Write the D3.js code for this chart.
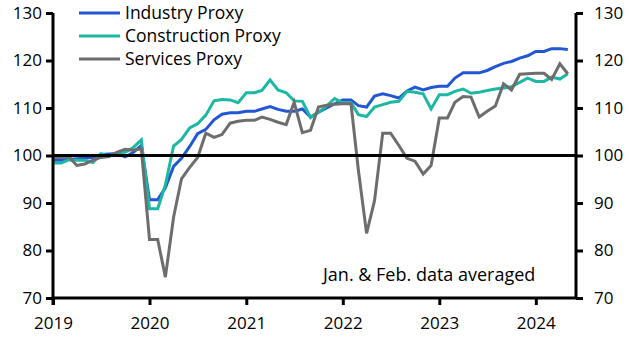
<!DOCTYPE html>
<meta charset="utf-8">
<script src="https://cdn.jsdelivr.net/npm/d3@7"></script>
<style>
	body{
		margin:0;
		font-family:"Open Sans",sans-serif;
		background:#fff;
	}
</style>
<div id="chart"></div>

<script>
// monthly proxies, Jan 2019 - May 2024 (Jan & Feb share one value)
var startYear = 2019
var industry = [99.0,99.0,99.2,99.3,99.4,99.6,100.2,100.3,100.4,99.7,100.7,102.1,
	90.7,90.7,93.2,97.7,99.4,101.9,104.6,105.5,107.5,108.7,109.0,109.0,
	109.3,109.3,109.8,110.3,109.7,109.3,109.3,109.8,108.1,109.1,110.0,110.9,
	111.7,111.7,110.5,110.2,112.5,113.0,112.6,112.1,113.6,114.4,113.8,114.3,
	114.6,114.6,116.3,117.4,117.4,117.4,117.9,118.7,119.4,119.8,120.5,121.0,
	121.9,121.9,122.5,122.5,122.3]
var construction = [98.4,98.4,99.1,99.0,99.0,98.5,100.4,99.9,100.6,100.7,101.7,103.3,
	88.8,88.8,93.8,102.0,103.4,105.8,106.7,108.5,111.5,111.8,111.7,111.1,
	113.2,113.2,113.7,115.9,113.8,113.2,111.5,111.4,108.0,109.1,110.4,112.0,
	111.1,111.1,108.6,108.2,110.2,110.7,111.2,111.4,113.5,113.3,113.0,109.8,
	112.8,112.8,113.5,114.0,113.1,113.3,113.7,114.0,114.2,114.5,115.4,116.3,
	115.6,115.6,116.5,116.1,117.2]
var services = [99.6,99.6,99.8,97.9,98.2,99.0,99.6,99.8,100.7,101.3,101.1,101.4,
	82.3,82.3,74.4,87.0,95.1,97.5,99.6,104.7,103.8,104.4,106.8,107.2,
	107.4,107.4,108.1,107.6,107.0,106.5,111.2,104.8,105.3,110.2,110.6,110.8,
	110.9,110.9,96.9,83.6,90.5,104.7,104.7,102.1,99.4,98.8,96.1,97.9,
	107.9,107.9,111.2,112.4,112.3,108.1,109.3,110.4,115.1,113.8,117.1,117.2,
	117.3,117.3,116.0,119.3,117.2]

var seriesNames = ["Industry Proxy","Construction Proxy","Services Proxy"]
var seriesColors = ["#2257d3","#1cb8a3","#6d6d6d"]
var yTicks = [70,80,90,100,110,120,130]
var yearTicks = [2019,2020,2021,2022,2023,2024]
var note = "Jan. & Feb. data averaged"

var width = 629
var height = 340
var plot = {x0:53, x1:576, y0:13, y1:298}

var months = d3.range(industry.length).map(function(i){ return new Date(startYear,i,1) })

var x = d3.scaleTime()
	.domain([new Date(startYear,0,1), new Date(2024,5,1)])
	.range([plot.x0,plot.x1])
var y = d3.scaleLinear().domain([70,130]).range([plot.y1,plot.y0])

var svg = d3.select("#chart").append("svg")
	.attr("width",width)
	.attr("height",height)

// series, services drawn last so it sits on top
var line = d3.line()
	.x(function(d,i){ return x(months[i]) })
	.y(function(d){ return y(d) })

var allSeries = [industry,construction,services]
svg.append("g")
	.selectAll("path")
	.data(allSeries)
	.enter()
	.append("path")
	.attr("d",line)
	.attr("fill","none")
	.attr("stroke",function(d,i){ return seriesColors[i] })
	.attr("stroke-width",3)

// 100 reference line
svg.append("line")
	.attr("x1",plot.x0).attr("x2",plot.x1)
	.attr("y1",y(100)).attr("y2",y(100))
	.attr("stroke","#000").attr("stroke-width",3)

// axes
var leftAxis = d3.axisLeft(y).tickValues(yTicks).tickSize(7).tickPadding(4)
var rightAxis = d3.axisRight(y).tickValues(yTicks).tickSize(7).tickPadding(11)
var bottomAxis = d3.axisBottom(x)
	.tickValues(yearTicks.map(function(yr){ return new Date(yr,0,1) }))
	.tickFormat(d3.timeFormat("%Y"))
	.tickSize(7).tickPadding(12)

var gl = svg.append("g").attr("transform","translate("+plot.x0+",0)").call(leftAxis)
var gr = svg.append("g").attr("transform","translate("+plot.x1+",0)").call(rightAxis)
var gb = svg.append("g").attr("transform","translate(0,"+plot.y1+")").call(bottomAxis)

;[gl,gr,gb].forEach(function(g){
	g.select(".domain").attr("stroke","#000").attr("stroke-width",3)
	g.selectAll(".tick line").attr("stroke","#000").attr("stroke-width",3)
	g.selectAll(".tick text").attr("fill","#000").style("font-size","17px")
		.style("font-family","'Open Sans',sans-serif")
})
gl.select(".domain").attr("d","M0,"+plot.y0+"V"+(plot.y1+7))
gr.select(".domain").attr("d","M0,"+plot.y0+"V"+plot.y1)
gb.select(".domain").attr("d","M"+plot.x0+",0H"+plot.x1)
gr.selectAll(".tick text").attr("text-anchor","start")

// legend
var legend = svg.append("g").attr("transform","translate(79,13)")
seriesNames.forEach(function(name,i){
	var row = legend.append("g").attr("transform","translate(0,"+(i*23)+")")
	row.append("line")
		.attr("x1",0).attr("x2",41)
		.attr("stroke",seriesColors[i]).attr("stroke-width",3)
	row.append("text")
		.attr("x",46).attr("dy","0.35em")
		.style("font-size","17.5px")
		.text(name)
})

svg.append("text")
	.attr("x",323).attr("y",281)
	.style("font-size","18px")
	.text(note)
</script>
